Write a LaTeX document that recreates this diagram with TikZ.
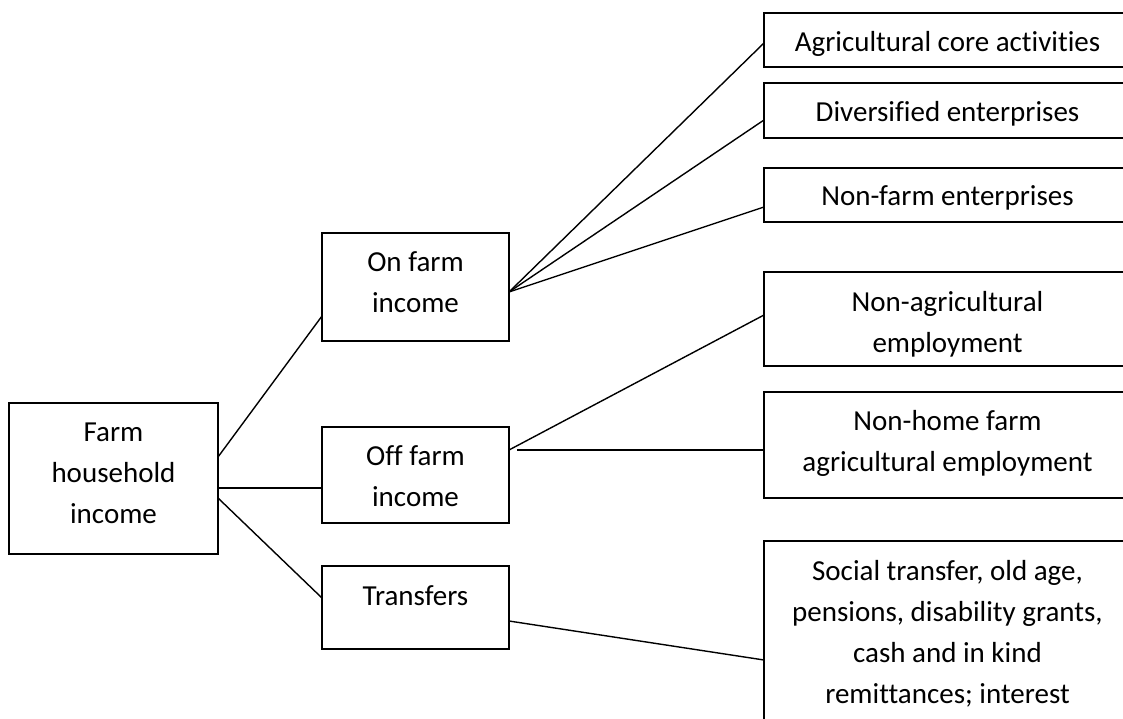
\documentclass[tikz,border=0pt]{standalone}
\usepackage{fontspec}
\setmainfont{Carlito}[RawFeature={-liga;-clig;-calt;-dlig}]
\begin{document}
\begin{tikzpicture}[x=1pt,y=1pt]
\tikzset{
  box/.style={draw=black, line width=1.5pt, rectangle, inner sep=0pt, outer sep=0pt},
  txt/.style={inner sep=0pt, anchor=base, font=\fontsize{29}{41}\selectfont},
  link/.style={draw=black, line width=1.4pt},
}
\useasboundingbox (0,0) rectangle (1123,-719);
\clip (0,0) rectangle (1123,-719);
% left column
\node[box, minimum width=209pt, minimum height=151pt] (farm) at (113.5,-478.5) {};
\node[txt] (farmt) at (113.5,-441.7) {\begin{tabular}[t]{@{}c@{}}Farm\\household\\income\end{tabular}};
% middle column
\node[box, minimum width=187pt, minimum height=108pt] (on) at (415.5,-287) {};
\node[txt] (ont) at (415.5,-271.7) {\begin{tabular}[t]{@{}c@{}}On farm\\income\end{tabular}};
\node[box, minimum width=187pt, minimum height=96pt] (off) at (415.5,-475) {};
\node[txt] (offt) at (415.5,-465) {\begin{tabular}[t]{@{}c@{}}Off farm\\income\end{tabular}};
\node[box, minimum width=187pt, minimum height=83pt] (tr) at (415.5,-607.5) {};
\node[txt] (trt) at (415.5,-605) {Transfers};
% right column
\node[box, minimum width=367pt, minimum height=54pt] (agri) at (947.5,-40) {};
\node[txt] (agrit) at (947.5,-52) {Agricultural core activities};
\node[box, minimum width=367pt, minimum height=55pt] (div) at (947.5,-110.5) {};
\node[txt] (divt) at (947.5,-122) {Diversified enterprises};
\node[box, minimum width=367pt, minimum height=54pt] (nf) at (947.5,-195) {};
\node[txt] (nft) at (947.5,-206) {Non-farm enterprises};
\node[box, minimum width=367pt, minimum height=94pt] (na) at (947.5,-319) {};
\node[txt] (nat) at (947.5,-311.7) {\begin{tabular}[t]{@{}c@{}}Non-agricultural\\employment\end{tabular}};
\node[box, minimum width=367pt, minimum height=106pt] (nh) at (947.5,-445) {};
\node[txt] (nht) at (947.5,-430) {\begin{tabular}[t]{@{}c@{}}Non-home farm\\agricultural employment\end{tabular}};
\node[box, minimum width=367pt, minimum height=189pt] (soc) at (947.5,-635.5) {};
\node[txt] (soct) at (947.5,-580) {\begin{tabular}[t]{@{}c@{}}Social transfer, old age,\\pensions, disability grants,\\cash and in kind\\remittances; interest\end{tabular}};
% connectors
\draw[link] ([yshift=21.5pt]farm.east) -- ([yshift=-29pt]on.west);
\draw[link] ([yshift=-9.5pt]farm.east) -- ([yshift=-13pt]off.west);
\draw[link] ([yshift=-19.5pt]farm.east) -- ([yshift=9.5pt]tr.west);
\draw[link] ([yshift=-5pt]on.east) -- ([yshift=-3pt]agri.west);
\draw[link] ([yshift=-5pt]on.east) -- ([yshift=-9.5pt]div.west);
\draw[link] ([yshift=-5pt]on.east) -- ([yshift=-12pt]nf.west);
\draw[link] ([yshift=25pt]off.east) -- ([yshift=4pt]na.west);
\draw[link] ([xshift=8pt,yshift=25pt]off.east) -- ([yshift=-5pt]nh.west);
\draw[link] ([yshift=-13.5pt]tr.east) -- ([yshift=-24.5pt]soc.west);
\end{tikzpicture}
\end{document}
